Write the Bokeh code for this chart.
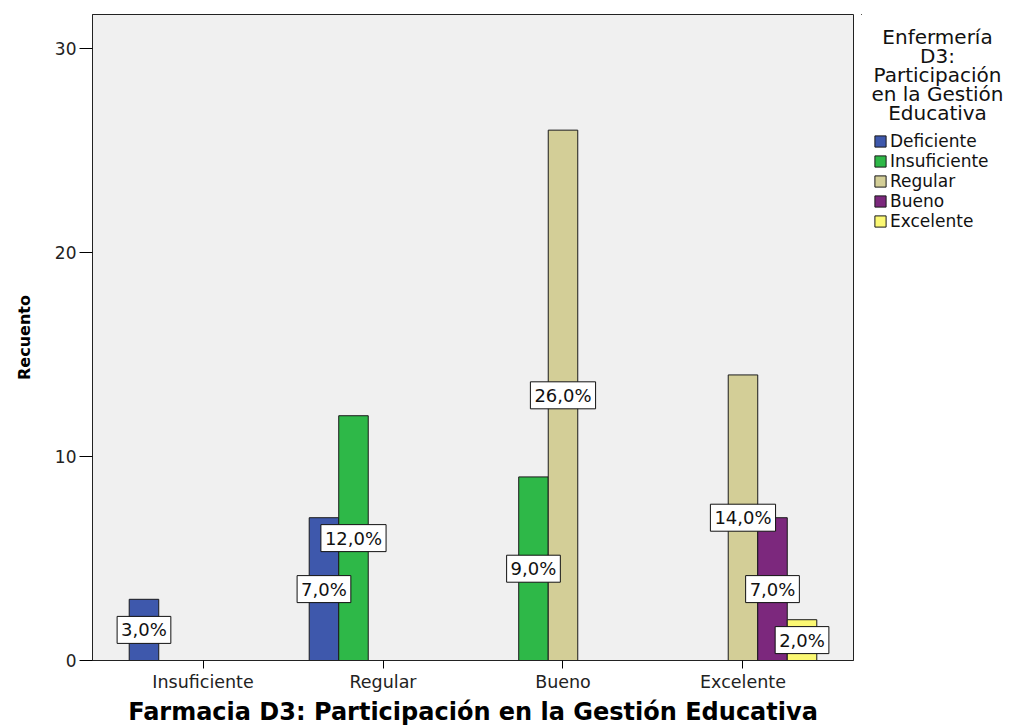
from bokeh.plotting import figure
from bokeh.models import (ColumnDataSource, FactorRange, Range1d, Legend, LegendItem, Label)
from bokeh.layouts import row
from bokeh.transform import dodge
from bokeh.core.properties import value
from bokeh.embed import file_html
from bokeh.resources import INLINE

# ---- data ----
categories = ["Insuficiente", "Regular", "Bueno", "Excelente"]
series_names = ["Deficiente", "Insuficiente", "Regular", "Bueno", "Excelente"]
deficiente = [3, 7, 0, 0]
insuficiente = [0, 12, 9, 0]
regular = [0, 0, 26, 14]
bueno = [0, 0, 0, 7]
excelente = [0, 0, 0, 2]
total_n = 100
y_ticks = [0, 10, 20, 30]
legend_title_lines = ["Enfermería", "D3:", "Participación", "en la Gestión", "Educativa"]
x_title = "Farmacia D3: Participación en la Gestión Educativa"
y_title = "Recuento"

colors = ["#3E58AC", "#2EB848", "#D3CE97", "#7C287D", "#FBF873"]
FONT = "DejaVu Sans"
bar_w = 0.164
H = 728
FRAME_TOP = 14
FRAME_BOTTOM = 67

p = figure(
    x_range=FactorRange(factors=categories, range_padding=0.114, range_padding_units="absolute"),
    y_range=Range1d(0, 31.67),
    width=861, height=H,
    output_backend="svg", toolbar_location=None,
    min_border_left=92, min_border_right=8, min_border_top=FRAME_TOP, min_border_bottom=FRAME_BOTTOM,
)
p.background_fill_color = "#F0F0F0"
p.border_fill_color = "white"
p.outline_line_color = "#222222"
p.outline_line_width = 1
p.xgrid.visible = False
p.ygrid.visible = False

all_series = [deficiente, insuficiente, regular, bueno, excelente]
sources = []
for i, (name, vals, col) in enumerate(zip(series_names, all_series, colors)):
    idx = [j for j, v in enumerate(vals) if v > 0]
    src = ColumnDataSource(dict(
        cat=[categories[j] for j in idx],
        count=[vals[j] for j in idx],
        half=[vals[j] / 2 for j in idx],
        label=[("%.1f%%" % (vals[j] / total_n * 100)).replace(".", ",") for j in idx],
    ))
    off = (i - 2) * bar_w
    p.vbar(x=dodge("cat", off, range=p.x_range), top="count", width=bar_w, source=src,
           fill_color=col, line_color="#1a1a1a", line_width=1)
    sources.append((src, off))

for src, off in sources:
    p.text(x=dodge("cat", off, range=p.x_range), y="half", text="label", source=src,
           text_align="center", text_baseline="middle",
           text_font=value(FONT), text_font_size="18px", text_color="#111111",
           background_fill_color="white", border_line_color="#111111",
           border_line_width=1, padding=dict(x=4, y=3))

# axes
p.yaxis.ticker = y_ticks
p.yaxis.major_tick_out = 13
p.yaxis.major_tick_in = 0
p.yaxis.minor_tick_line_color = None
p.yaxis.major_label_standoff = 3
p.yaxis.major_label_text_font = FONT
p.yaxis.major_label_text_font_size = "17px"
p.yaxis.major_label_text_color = "#222222"
p.yaxis.axis_label = y_title
p.yaxis.axis_label_text_font = FONT
p.yaxis.axis_label_text_font_style = "bold"
p.yaxis.axis_label_text_font_size = "16px"
p.yaxis.axis_label_text_color = "#000000"
p.yaxis.axis_label_standoff = 18
p.yaxis.axis_line_color = "#222222"

p.xaxis.major_tick_out = 8
p.xaxis.major_tick_in = 0
p.xaxis.major_label_standoff = 3
p.xaxis.major_label_text_font = FONT
p.xaxis.major_label_text_font_size = "17.5px"
p.xaxis.major_label_text_color = "#222222"
p.xaxis.axis_label = x_title
p.xaxis.axis_label_text_font = FONT
p.xaxis.axis_label_text_font_style = "bold"
p.xaxis.axis_label_text_font_size = "24px"
p.xaxis.axis_label_text_color = "#000000"
p.xaxis.axis_label_standoff = 3
p.xaxis.axis_line_color = "#222222"

# ---- right-hand legend area (its frame is aligned with the main frame) ----
side = figure(width=144, height=H, x_range=Range1d(0, 144),
              y_range=Range1d(H - FRAME_BOTTOM, FRAME_TOP),
              x_axis_location=None, y_axis_location=None,
              output_backend="svg", toolbar_location=None,
              min_border_left=0, min_border_right=0,
              min_border_top=FRAME_TOP, min_border_bottom=FRAME_BOTTOM)
side.outline_line_color = None
side.background_fill_color = "white"
side.border_fill_color = "white"
side.xgrid.visible = False
side.ygrid.visible = False

items = []
for name, col in zip(series_names, colors):
    # legend swatch carrier (zero-size, far outside the visible area)
    r = side.vbar(x=[-1000], top=[0], width=0, fill_color=col, line_color="#1a1a1a", line_width=1)
    items.append(LegendItem(label=name, renderers=[r]))

legend = Legend(items=items, location=(12, (H - FRAME_BOTTOM) - 232), padding=0, spacing=0, margin=0,
                label_height=20, glyph_width=14, glyph_height=14, label_standoff=3,
                label_text_font=FONT, label_text_font_size="17px", label_text_color="#111111",
                background_fill_alpha=0, border_line_alpha=0)
side.add_layout(legend)

for k, line in enumerate(legend_title_lines):
    side.add_layout(Label(x=76, y=37 + 19 * k, text=line,
                          text_align="center", text_baseline="middle", text_font=FONT,
                          text_font_size="20px", text_color="#111111"))

open("out.html", "w").write(file_html(row(p, side), INLINE))
